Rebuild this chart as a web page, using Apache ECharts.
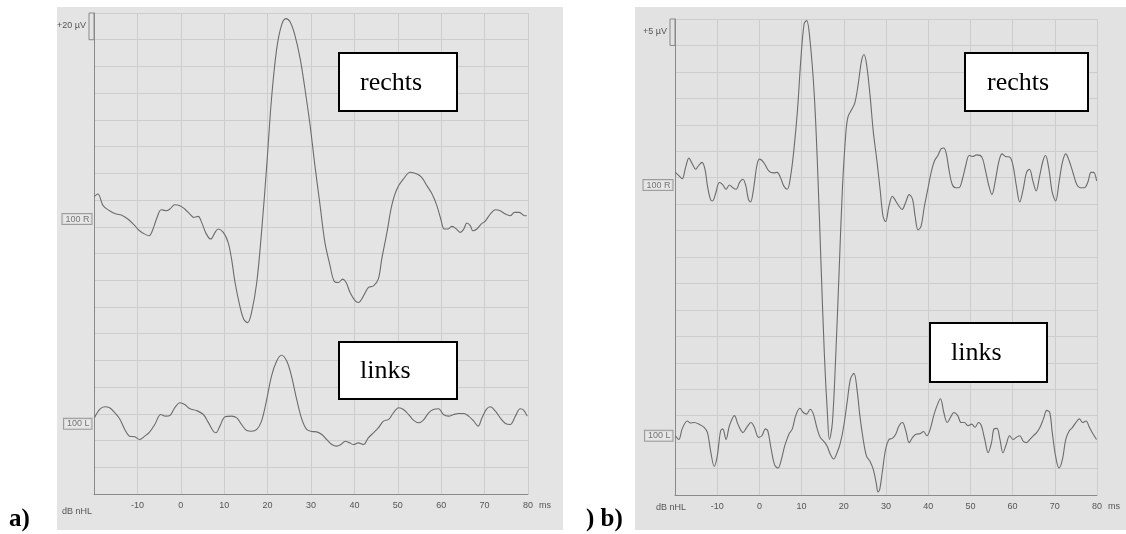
<!DOCTYPE html>
<html lang="de">
<head>
    <meta charset="UTF-8">
    <script src="https://cdn.jsdelivr.net/npm/echarts@6/dist/echarts.min.js"></script>
    <title>BERA rechts / links</title>
    <style>
        html, body {margin: 0; padding: 0; background: #fff;}
        #chart {width: 1126px; height: 534px;}
    </style>
</head>
<body>

<div id="chart"></div>

<script>
    // time axis in ms, amplitude in µV (grid step = 20 µV in a, 5 µV in b)
    var xMin = -20, xMax = 80, xStep = 10;
    var aStep = 20, bStep = 5;          // one grid row
    var rows = 18;

    // a) rechts  [ms, µV]
    var aRechts = [[-19.9,222.8],[-19.1,224.5],[-17.9,215.8],[-16.4,212],[-14.9,209.5],[-13.7,208.8],[-12.2,205.8],
        [-10.6,200.8],[-9.5,197],[-8.3,194.5],[-7.3,193.3],[-6.4,198.3],[-5.6,205.8],[-4.5,212.8],[-3.3,212],[-2.5,213.3],
        [-1.4,216.5],[-0.2,215.8],[0.9,213.3],[2.1,209.5],[3,207],[4,207.8],[4.8,203.3],[5.9,194.5],[6.9,190.8],[7.9,195.8],
        [8.6,198.3],[9.8,195.8],[10.9,188.3],[11.7,175.8],[12.5,158.3],[13.6,140.8],[14.5,130.8],[15.4,128.3],[16.3,135.8],
        [17.5,158.3],[18.6,195.8],[19.8,245.8],[20.9,295.8],[22.1,333.3],[23.2,350.8],[24.2,355.8],[25.2,353.3],[26.3,343.3],
        [27.5,325.8],[28.6,303.3],[29.8,275.8],[30.9,245.8],[32.1,215.8],[33.2,188.3],[34.4,170.8],[35.3,159.5],[36.3,158.3],
        [37.3,160.8],[38.1,158.3],[39,150.8],[40.2,144.5],[40.9,143.3],[42.1,148.3],[43.2,154.5],[44.4,155.8],[45.5,160.8],
        [46.3,175.8],[47.5,195.8],[48.6,215.8],[49.8,228.3],[51.3,235.8],[52.9,240.8],[54.4,239.5],[55.5,237],[56.7,230.8],
        [57.9,224.5],[59,215.8],[59.9,205.8],[60.7,198.3],[61.5,198.3],[62.5,200.3],[63.5,198.3],[64.4,195.8],[65.2,198.3],
        [65.9,202.8],[66.7,200.8],[67.3,197],[68.2,198.3],[69.2,202],[70.2,204.5],[71.3,209.5],[72.5,212.8],[73.6,212],
        [74.8,209.5],[75.9,208.3],[76.9,210.8],[78,210.8],[79.2,208.3],[79.7,208.3]];

    // a) links
    var aLinks = [[-19.9,57],[-18.7,63.3],[-17.5,65.3],[-16.4,64.5],[-15.2,60.8],[-14.1,56.3],[-12.9,48.3],[-11.8,43.3],
        [-10.6,42.8],[-9.5,40.8],[-8.3,43.3],[-7.2,46.3],[-6,52],[-4.6,59.5],[-3.5,58.3],[-2.5,58.8],[-1.4,64.5],[-0.2,68.3],
        [0.9,67],[2.1,63.8],[3.6,62.5],[5.2,59.5],[6.3,53.8],[7.5,47],[8.1,45.8],[9,50.8],[10.2,57.8],[11.7,58.3],[12.9,57],
        [14,52],[15.2,47.5],[16.3,47],[17.5,48.3],[18.6,54.5],[19.8,70.8],[20.9,88.3],[22.1,99.5],[23.2,103.8],[24.4,99.5],
        [25.5,88.3],[26.7,70.8],[27.9,55.8],[29,48.3],[30.2,46.8],[31.3,46.5],[32.5,44.5],[33.6,40.8],[34.8,37],[35.9,35.8],
        [36.9,37],[37.9,39.5],[38.9,38.3],[39.8,37],[40.9,38.3],[42.1,37],[43.2,42],[44.4,45.8],[45.5,49.5],[46.7,54.5],
        [47.9,55.8],[49,60.8],[50.2,64.5],[51.3,63.3],[52.5,59.5],[53.6,55.3],[54.8,53.3],[55.9,55.3],[57.1,60.8],[58.2,63.3],
        [59.4,63.8],[60.5,59.5],[61.7,58.3],[62.9,59.5],[64,60.3],[65.2,60.3],[66.3,58.3],[67.5,54.5],[68.5,50.8],[69.4,57],
        [70.4,63.3],[71.3,65.3],[72.5,62],[73.6,57],[74.8,52.8],[75.9,52],[77.1,58.3],[78.2,63.8],[79,62.8],[79.8,58.3]];

    // b) rechts
    var bRechts = [[-19.9,61],[-19.1,60.4],[-18.3,59.8],[-17.5,61.9],[-16.7,63.7],[-15.9,62.6],[-15.1,61.6],[-14.4,62.3],
        [-13.6,62.9],[-12.9,61.6],[-12.3,58.4],[-11.6,55.9],[-11.1,55.6],[-10.3,57.2],[-9.5,59.1],[-8.7,58.7],[-7.9,57.8],
        [-7.1,58.6],[-6.3,58.1],[-5.5,57.8],[-4.7,59.1],[-3.9,59.7],[-3.2,58.4],[-2.6,55.9],[-2.1,55.4],[-1.4,57.8],[-0.6,62.3],
        [0,63.5],[1,62.9],[2.2,61.3],[3.4,60.9],[4.2,61],[5,60],[5.8,58.4],[6.6,57.8],[7.4,60.3],[8.2,65.5],[9,72.5],[9.8,82.1],
        [10.6,89.1],[11.2,89.7],[12,85.9],[13,75.7],[13.8,61.6],[14.6,43.7],[15.4,26.5],[16.1,15.6],[16.6,10.5],[17.3,13.7],
        [18.1,26.5],[18.9,42.5],[19.7,58.4],[20.5,68.6],[21,71.5],[21.8,72.8],[22.6,74.1],[23.4,77.6],[24.2,82.1],[24.8,83.3],
        [25.4,81.4],[26.2,75.7],[27,68.6],[27.8,63.5],[28.6,57.8],[29.3,52.7],[29.9,51.7],[30.7,54.6],[31.5,56.5],[32.3,55.6],
        [33.1,54.6],[33.8,54],[34.6,55.2],[35.5,56.8],[36.3,55.9],[36.9,52.7],[37.6,50.1],[38.3,50.8],[39.1,54.6],[39.9,57.8],
        [40.7,61],[41.5,63.2],[42.3,64.2],[43.1,65.5],[43.7,65.6],[44.3,64.5],[44.9,61.6],[45.7,58.7],[46.5,58.1],[47.3,58.1],
        [48.1,59.7],[48.9,62.3],[49.7,64.2],[50.5,64],[51.5,64.3],[52.7,63.9],[53.5,61.6],[54.3,58.7],[55.1,56.8],[55.9,59.4],
        [56.7,62.9],[57.5,64.5],[58.3,64],[59.3,63.9],[60.1,62.3],[60.9,58.4],[61.7,55.4],[62.5,57.8],[63.3,61],[64,61.6],
        [64.8,59.4],[65.6,57.5],[66.4,60.3],[67.2,63.2],[67.8,64.2],[68.6,61.6],[69.4,57.2],[70.2,55.6],[71,59.1],[71.8,62.9],
        [72.6,64.5],[73.4,63.2],[74.4,60.7],[75.2,58.7],[76,58.1],[77,58.1],[77.8,59.1],[78.6,61],[79.2,61],[79.9,59.4]];

    // b) links
    var bLinks = [[-19.9,11.2],[-19.1,10.5],[-18.3,12.5],[-17.1,14],[-16.3,13.6],[-15.5,13.7],[-14.3,13.4],[-13.1,12.8],
        [-12.3,11.8],[-11.5,8],[-10.7,5.4],[-10,7.3],[-9.2,12.1],[-8.7,12.5],[-7.9,10.5],[-7.1,13.1],[-5.9,15],[-5.1,13.4],
        [-3.9,11.8],[-3,12.8],[-2,13.7],[-1.2,12.8],[-0.2,10.9],[0.6,11.2],[1.4,12.5],[2,12.1],[2.8,8.6],[3.6,5.7],[4.4,5.1],
        [5.2,6.7],[6,9.3],[7,11.5],[7.8,12.5],[8.6,15],[9.6,16.4],[10.4,15.6],[11.2,15.3],[12,16.2],[12.8,15.3],[13.6,12.8],
        [14.4,10.9],[15.2,10.2],[16,9.3],[16.8,7.7],[17.6,6.8],[18.4,8],[19.2,9.9],[20,13.1],[20.8,17.6],[21.6,22],[22.4,23],
        [23.2,19.5],[23.8,15],[24.6,10.5],[25.4,7.3],[26.2,6.4],[27,4.8],[27.7,2.2],[28.1,0.6],[28.5,1],[29.1,4.2],[29.9,8.6],
        [30.7,10.5],[31.5,10.7],[32.3,11.5],[33.1,13.1],[33.9,13.7],[34.7,12.1],[35.5,9.9],[36.3,10.9],[37.1,11.5],[38.1,11.6],
        [38.9,12],[39.7,11.2],[40.5,12.5],[41.3,15],[42.1,16.9],[42.9,18.2],[43.7,15.6],[44.5,13.7],[45.3,14.7],[46.1,15.6],
        [47,15],[47.8,13.7],[48.6,13.7],[49.4,13.1],[50.3,13.4],[51.1,12.8],[51.9,13.7],[52.6,13.1],[53.4,10.5],[54.2,8],
        [55,9.9],[55.6,12.5],[56.3,12.6],[57,10.5],[57.7,8],[58.5,9.6],[59.3,11.2],[60.1,10.5],[60.9,10.9],[61.7,11.2],
        [62.5,10.2],[63.3,9.9],[64.1,10.5],[64.9,11.2],[65.7,11.8],[66.5,12.8],[67.3,14.4],[68.1,16],[68.8,15.6],[69.4,11.8],
        [70.2,7.3],[71,5.1],[71.8,6.7],[72.6,10.5],[73.4,12.1],[74.2,12.8],[75,13.7],[75.8,14.4],[76.6,13.7],[77.4,14],
        [78.2,12.8],[79.1,11.5],[79.9,10.5]];

    // channel labels at the left edge: [ms, µV]
    var aChannelPos = [[-20, 205.8], [-20, 52.5]];
    var bChannelPos = [[-20, 58.6], [-20, 11.2]];
    var channelNames = ['100 R', '100 L'];

    // calibration bar: [ms, top, bottom]
    var aCal = [[-20, 360, 340]];
    var bCal = [[-20, 90, 85]];
    var calNames = ['+20 µV', '+5 µV'];

    var traceColor = '#6c6c6c';
    var gridColor = '#cdcdcd';
    var axisColor = '#8a8a8a';
    var sans = 'Liberation Sans';
    var serif = 'Liberation Serif';

    var chart = echarts.init(document.getElementById('chart'), null, {renderer: 'canvas'});

    function xAxis(idx) {
        return {
            type: 'value', gridIndex: idx, min: xMin, max: xMax, interval: xStep,
            name: 'ms', nameLocation: 'end', nameGap: 8,
            nameTextStyle: {color: '#555', fontSize: 9, fontFamily: sans, verticalAlign: 'top', padding: [7, 0, 0, 0]},
            axisLine: {show: true, onZero: false, lineStyle: {color: axisColor, width: 1}},
            axisTick: {show: false},
            axisLabel: {
                color: '#555', fontSize: 9, fontFamily: sans, margin: 7,
                formatter: function (v) { return v === xMin ? '' : String(v); }
            },
            splitLine: {show: true, lineStyle: {color: gridColor, width: 1}}
        };
    }

    function yAxis(idx, step) {
        return {
            type: 'value', gridIndex: idx, min: 0, max: step * rows, interval: step,
            axisLine: {show: true, onZero: false, lineStyle: {color: axisColor, width: 1}},
            axisTick: {show: false},
            axisLabel: {show: false},
            splitLine: {show: true, lineStyle: {color: gridColor, width: 1}}
        };
    }

    function trace(data, idx) {
        return {
            type: 'line', xAxisIndex: idx, yAxisIndex: idx, data: data,
            showSymbol: false, smooth: 0.35, silent: true,
            lineStyle: {color: traceColor, width: 1.1}, z: 3
        };
    }

    function channels(data, idx) {
        return {
            type: 'scatter', xAxisIndex: idx, yAxisIndex: idx, data: data,
            symbolSize: 1, itemStyle: {color: 'rgba(0,0,0,0)'}, silent: true,
            label: {
                show: true, position: 'left', distance: 2,
                formatter: function (p) { return channelNames[p.dataIndex]; },
                color: '#555', fontSize: 9, fontFamily: sans,
                borderColor: '#8a8a8a', borderWidth: 1, padding: [1, 2, 0, 3],
                backgroundColor: '#e8e8e8'
            }
        };
    }

    function calBar(data, idx) {
        return {
            type: 'custom', xAxisIndex: idx, yAxisIndex: idx, data: data, silent: true,
            renderItem: function (params, api) {
                var p1 = api.coord([api.value(0), api.value(1)]);
                var p2 = api.coord([api.value(0), api.value(2)]);
                return {
                    type: 'group', children: [
                        {type: 'rect', shape: {x: p1[0] - 5, y: p1[1], width: 5, height: p2[1] - p1[1]},
                            style: {fill: 'none', stroke: axisColor, lineWidth: 1}},
                        {type: 'text', style: {text: calNames[idx], x: p1[0] - 8, y: (p1[1] + p2[1]) / 2 - 1,
                                align: 'right', verticalAlign: 'middle', fill: '#555',
                                font: '9px "' + sans + '"'}}
                    ]
                };
            }
        };
    }

    function noteBox(x, y, w, h, txt, pad) {
        return {
            type: 'group', left: x, top: y, z: 100,
            children: [
                {type: 'rect', z: 100, shape: {x: 0, y: 0, width: w, height: h},
                    style: {fill: '#fff', stroke: '#000', lineWidth: 2}},
                {type: 'text', z: 101, style: {text: txt, x: pad, y: h / 2 + 1, verticalAlign: 'middle',
                        fill: '#000', font: '26px "' + serif + '"'}}
            ]
        };
    }

    chart.setOption({
        animation: false,
        backgroundColor: '#ffffff',
        grid: [
            {left: 94, top: 13, width: 434, height: 481, outerBoundsMode: 'none'},
            {left: 675, top: 19, width: 422, height: 476, outerBoundsMode: 'none'}
        ],
        xAxis: [xAxis(0), xAxis(1)],
        yAxis: [yAxis(0, aStep), yAxis(1, bStep)],
        series: [
            trace(aRechts, 0), trace(aLinks, 0),
            trace(bRechts, 1), trace(bLinks, 1),
            channels(aChannelPos, 0), channels(bChannelPos, 1),
            calBar(aCal, 0), calBar(bCal, 1)
        ],
        graphic: [
            // scanned paper panels
            {type: 'rect', left: 57, top: 7, z: -10, shape: {width: 506, height: 523}, style: {fill: '#e4e4e4'}},
            {type: 'rect', left: 635, top: 7, z: -10, shape: {width: 491, height: 523}, style: {fill: '#e2e2e2'}},
            {type: 'text', left: 62, top: 507, style: {text: 'dB nHL', fill: '#555', font: '9px "' + sans + '"'}},
            {type: 'text', left: 656, top: 503, style: {text: 'dB nHL', fill: '#555', font: '9px "' + sans + '"'}},
            {type: 'text', left: 9, top: 507, style: {text: 'a)', fill: '#000', font: 'bold 25px "' + serif + '"'}},
            {type: 'text', left: 586, top: 507, style: {text: ') b)', fill: '#000', font: 'bold 25px "' + serif + '"'}},
            noteBox(338, 52, 118, 58, 'rechts', 21),
            noteBox(338, 341, 118, 57, 'links', 21),
            noteBox(964, 52, 123, 58, 'rechts', 22),
            noteBox(929, 322, 117, 59, 'links', 21)
        ]
    });
</script>

</body>
</html>
